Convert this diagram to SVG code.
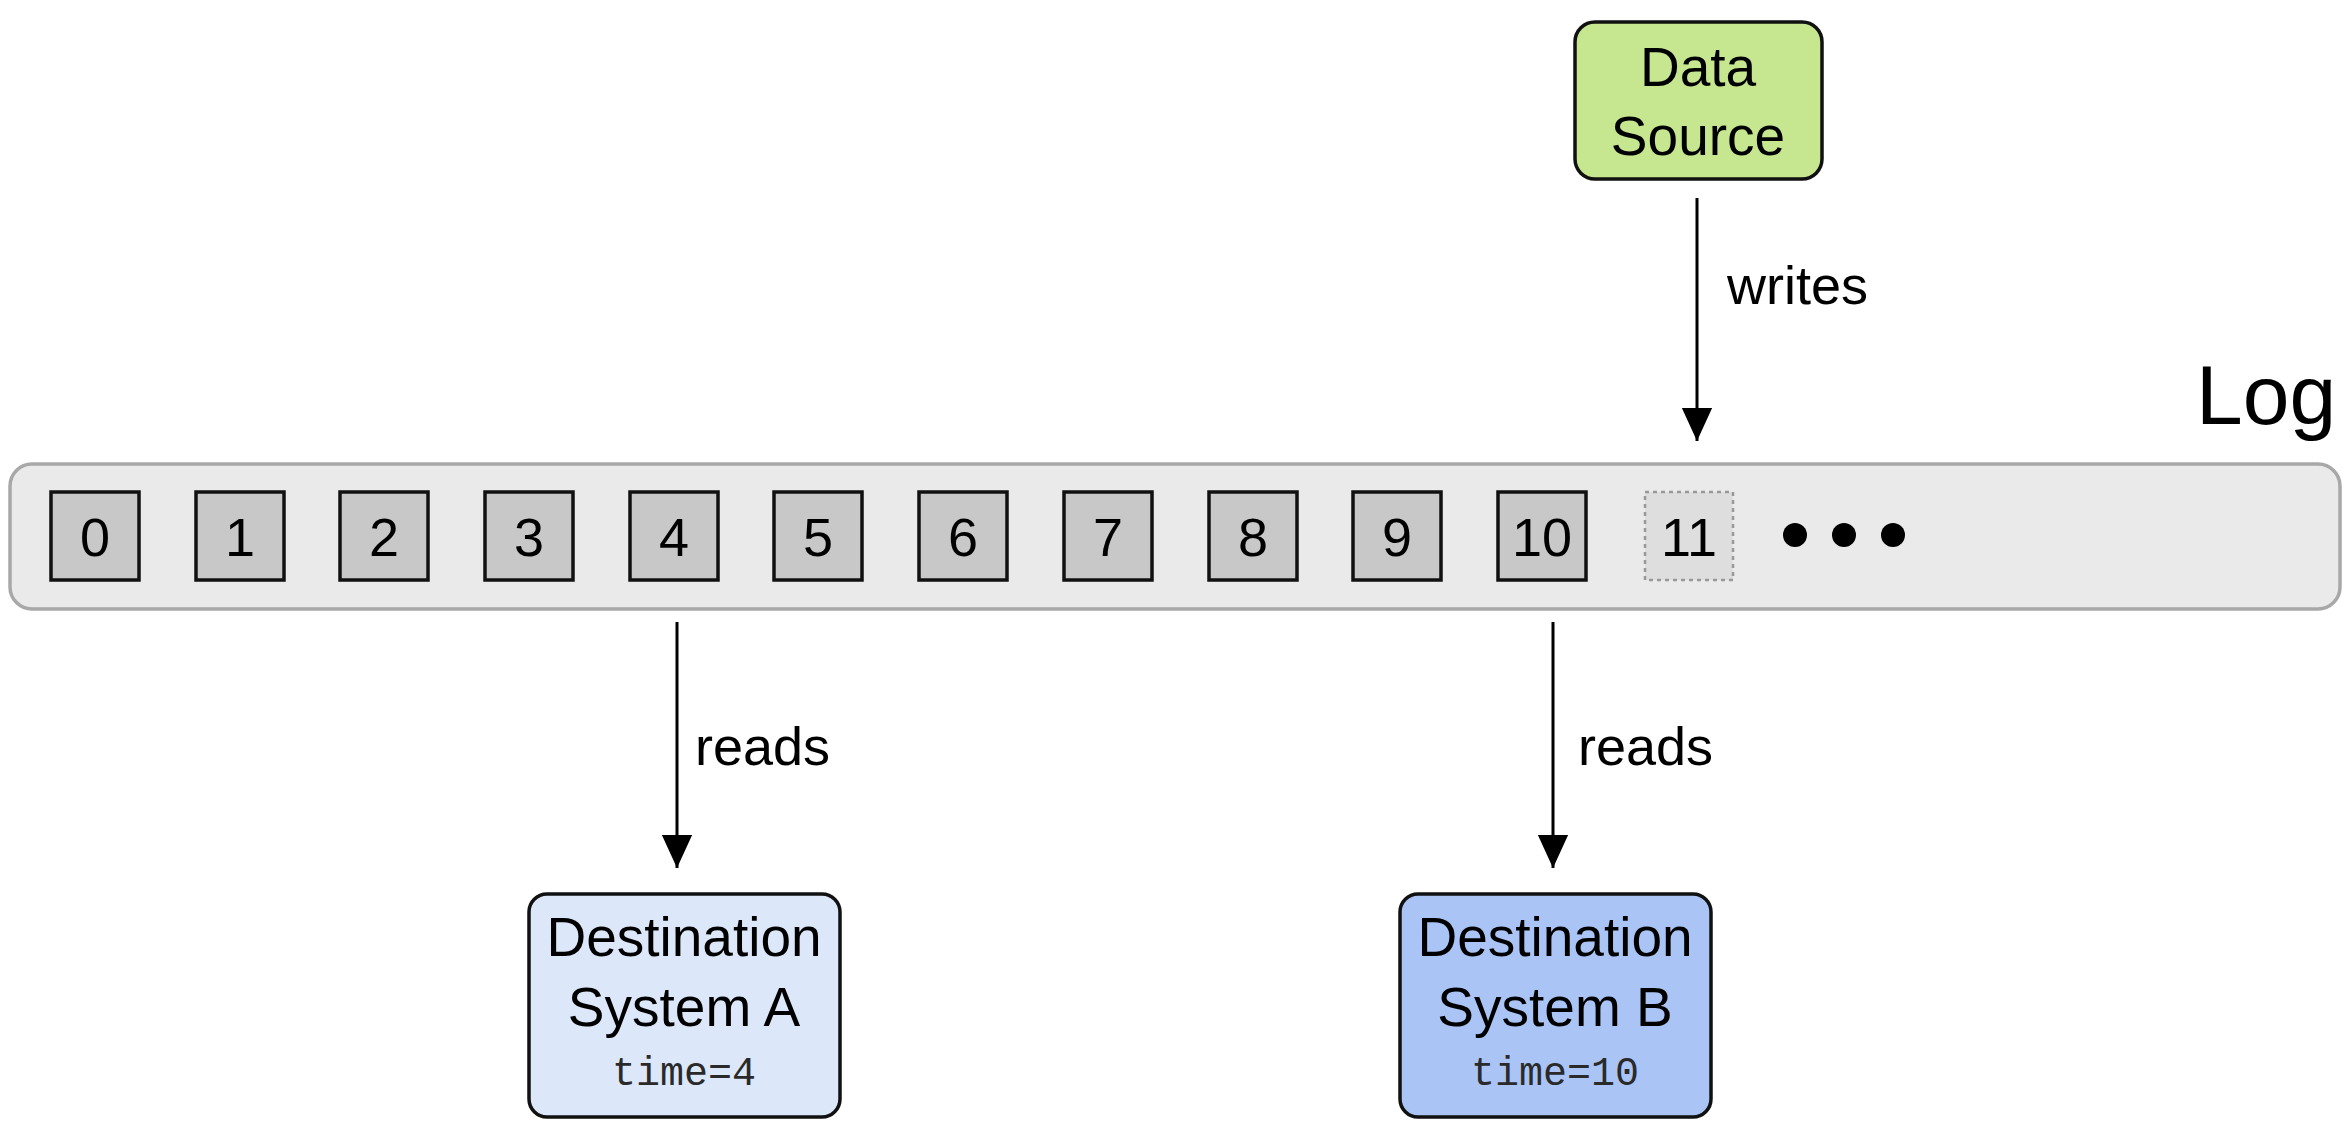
<svg xmlns="http://www.w3.org/2000/svg" width="2350" height="1132" viewBox="0 0 2350 1132">
<style>
text{font-family:"Liberation Sans",Arial,Helvetica,sans-serif;fill:#000}
.cell{fill:#c8c8c8;stroke:#111;stroke-width:3.5}
.num{font-size:54px;text-anchor:middle}
.lbl{font-size:54px}
.node{stroke:#111;stroke-width:3.5}
.nt{font-size:55px;text-anchor:middle}
.mono{font-family:"Liberation Mono","DejaVu Sans Mono",monospace;font-size:40px;text-anchor:middle;fill:#2a2a2a}
.conn{stroke:#000;stroke-width:3;fill:none}
</style>
<defs>
<marker id="arr" viewBox="0 0 12 12" refX="12" refY="6" markerWidth="11" markerHeight="11" markerUnits="strokeWidth" orient="auto">
<path d="M0,0.5 L12,6 L0,11.5 z" fill="#000"/>
</marker>
</defs>
<rect width="2350" height="1132" fill="#fff"/>
<g id="log">
<rect x="10" y="464" width="2330" height="145" rx="22" fill="#eaeaea" stroke="#a8a8a8" stroke-width="3.5"/>
<text x="2196" y="424" style="font-size:84px">Log</text>
</g>
<g id="cells">
<rect class="cell" x="51" y="492" width="88" height="88"/><text class="num" x="95" y="556">0</text>
<rect class="cell" x="196" y="492" width="88" height="88"/><text class="num" x="240" y="556">1</text>
<rect class="cell" x="340" y="492" width="88" height="88"/><text class="num" x="384" y="556">2</text>
<rect class="cell" x="485" y="492" width="88" height="88"/><text class="num" x="529" y="556">3</text>
<rect class="cell" x="630" y="492" width="88" height="88"/><text class="num" x="674" y="556">4</text>
<rect class="cell" x="774" y="492" width="88" height="88"/><text class="num" x="818" y="556">5</text>
<rect class="cell" x="919" y="492" width="88" height="88"/><text class="num" x="963" y="556">6</text>
<rect class="cell" x="1064" y="492" width="88" height="88"/><text class="num" x="1108" y="556">7</text>
<rect class="cell" x="1209" y="492" width="88" height="88"/><text class="num" x="1253" y="556">8</text>
<rect class="cell" x="1353" y="492" width="88" height="88"/><text class="num" x="1397" y="556">9</text>
<rect class="cell" x="1498" y="492" width="88" height="88"/><text class="num" x="1542" y="556">10</text>
<rect x="1645" y="492" width="88" height="88" fill="#dedede" stroke="#999" stroke-width="2.5" stroke-dasharray="4,4"/><text class="num" x="1689" y="556">11</text>
<circle cx="1795" cy="535" r="12"/>
<circle cx="1844" cy="535" r="12"/>
<circle cx="1893" cy="535" r="12"/>
</g>
<g id="data-source">
<rect class="node" x="1575" y="22" width="247" height="157" rx="20" fill="#c6e68f"/>
<text class="nt" x="1698" y="86">Data</text>
<text class="nt" x="1698" y="155">Source</text>
</g>
<g id="dest-a">
<rect class="node" x="529" y="894" width="311" height="223" rx="18" fill="#dce8fa"/>
<text class="nt" x="684" y="956">Destination</text>
<text class="nt" x="684" y="1026">System A</text>
<text class="mono" x="684" y="1085">time=4</text>
</g>
<g id="dest-b">
<rect class="node" x="1400" y="894" width="311" height="223" rx="18" fill="#a9c4f5"/>
<text class="nt" x="1555" y="956">Destination</text>
<text class="nt" x="1555" y="1026">System B</text>
<text class="mono" x="1555" y="1085">time=10</text>
</g>
<g id="connectors">
<line class="conn" x1="1697" y1="198" x2="1697" y2="441" marker-end="url(#arr)"/>
<text class="lbl" x="1727" y="304">writes</text>
<line class="conn" x1="677" y1="622" x2="677" y2="868" marker-end="url(#arr)"/>
<text class="lbl" x="695" y="765">reads</text>
<line class="conn" x1="1553" y1="622" x2="1553" y2="868" marker-end="url(#arr)"/>
<text class="lbl" x="1578" y="765">reads</text>
</g>
</svg>
